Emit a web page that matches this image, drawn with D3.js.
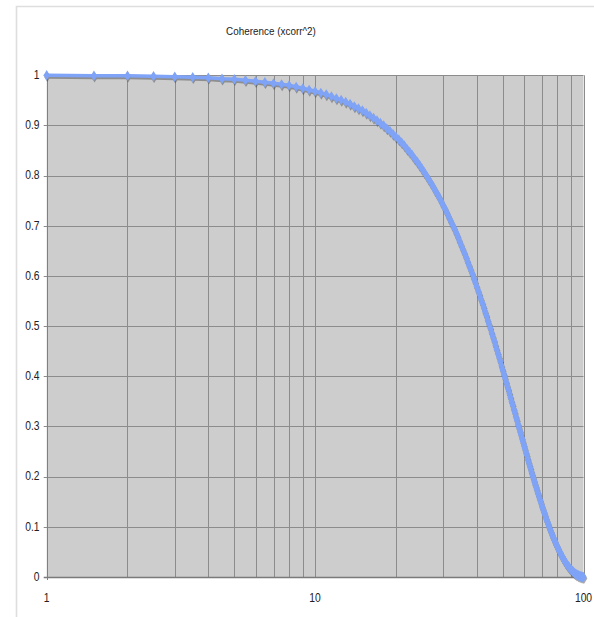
<!DOCTYPE html>
<html>
<head>
<meta charset="utf-8">
<script src="https://cdn.jsdelivr.net/npm/d3@7"></script>
<style>
  body { margin: 0; background: #fff; }
  text { font-family: "Liberation Sans", Arial, sans-serif; fill: #222; }
</style>
</head>
<body>
<svg id="chart"></svg>
<script>
// lag values (x) and coherence values (y)
var lags = [
  1, 1.5, 2, 2.5, 3, 3.5, 4, 4.5, 5, 5.5, 6, 6.5, 7, 7.5, 8, 8.5, 9, 9.5, 10, 10.5,
  11, 11.5, 12, 12.5, 13, 13.5, 14, 14.5, 15, 15.5, 16, 16.5, 17, 17.5, 18, 18.5, 19, 19.5, 20, 20.5,
  21, 21.5, 22, 22.5, 23, 23.5, 24, 24.5, 25, 25.5, 26, 26.5, 27, 27.5, 28, 28.5, 29, 29.5, 30, 30.5,
  31, 31.5, 32, 32.5, 33, 33.5, 34, 34.5, 35, 35.5, 36, 36.5, 37, 37.5, 38, 38.5, 39, 39.5, 40, 40.5,
  41, 41.5, 42, 42.5, 43, 43.5, 44, 44.5, 45, 45.5, 46, 46.5, 47, 47.5, 48, 48.5, 49, 49.5, 50, 50.5,
  51, 51.5, 52, 52.5, 53, 53.5, 54, 54.5, 55, 55.5, 56, 56.5, 57, 57.5, 58, 58.5, 59, 59.5, 60, 60.5,
  61, 61.5, 62, 62.5, 63, 63.5, 64, 64.5, 65, 65.5, 66, 66.5, 67, 67.5, 68, 68.5, 69, 69.5, 70, 70.5,
  71, 71.5, 72, 72.5, 73, 73.5, 74, 74.5, 75, 75.5, 76, 76.5, 77, 77.5, 78, 78.5, 79, 79.5, 80, 80.5,
  81, 81.5, 82, 82.5, 83, 83.5, 84, 84.5, 85, 85.5, 86, 86.5, 87, 87.5, 88, 88.5, 89, 89.5, 90, 90.5,
  91, 91.5, 92, 92.5, 93, 93.5, 94, 94.5, 95, 95.5, 96, 96.5, 97, 97.5, 98, 98.5, 99, 99.5, 100
]
var coherence = [
  1.000, 0.999, 0.999, 0.998, 0.997, 0.996, 0.995, 0.993, 0.992, 0.990, 0.988, 0.986, 0.984, 0.982, 0.980, 0.977, 0.974, 0.971, 0.968, 0.965,
  0.962, 0.958, 0.954, 0.951, 0.947, 0.943, 0.938, 0.934, 0.930, 0.925, 0.920, 0.915, 0.910, 0.905, 0.900, 0.894, 0.889, 0.883, 0.877, 0.872,
  0.866, 0.860, 0.853, 0.847, 0.841, 0.834, 0.828, 0.821, 0.814, 0.807, 0.800, 0.793, 0.786, 0.779, 0.771, 0.764, 0.757, 0.749, 0.741, 0.734,
  0.726, 0.718, 0.710, 0.702, 0.695, 0.687, 0.679, 0.670, 0.662, 0.654, 0.646, 0.638, 0.629, 0.621, 0.613, 0.605, 0.596, 0.588, 0.579, 0.571,
  0.563, 0.554, 0.546, 0.538, 0.529, 0.521, 0.512, 0.504, 0.496, 0.487, 0.479, 0.471, 0.462, 0.454, 0.446, 0.438, 0.430, 0.421, 0.413, 0.405,
  0.397, 0.389, 0.381, 0.374, 0.366, 0.358, 0.350, 0.343, 0.335, 0.328, 0.320, 0.313, 0.305, 0.298, 0.291, 0.284, 0.277, 0.270, 0.263, 0.256,
  0.249, 0.243, 0.236, 0.229, 0.223, 0.217, 0.210, 0.204, 0.198, 0.192, 0.186, 0.181, 0.175, 0.169, 0.164, 0.158, 0.153, 0.148, 0.142, 0.137,
  0.132, 0.128, 0.123, 0.118, 0.113, 0.109, 0.105, 0.100, 0.096, 0.092, 0.088, 0.084, 0.080, 0.077, 0.073, 0.070, 0.066, 0.063, 0.060, 0.057,
  0.053, 0.051, 0.048, 0.045, 0.042, 0.040, 0.037, 0.035, 0.033, 0.030, 0.028, 0.026, 0.024, 0.022, 0.021, 0.019, 0.017, 0.016, 0.014, 0.013,
  0.012, 0.011, 0.009, 0.008, 0.007, 0.006, 0.005, 0.005, 0.004, 0.003, 0.003, 0.002, 0.002, 0.001, 0.001, 0.001, 0.000, 0.000, 0.000
]
var xTickLabels = [1, 10, 100]
var yTicks = [0, 0.1, 0.2, 0.3, 0.4, 0.5, 0.6, 0.7, 0.8, 0.9, 1]
var title = "Coherence (xcorr^2)"

var width = 594, height = 617
var blue = "#7fa3f6"

var svg = d3.select("#chart")
    .attr("width", width)
    .attr("height", height)

var x = d3.scaleLog().domain([1, 100]).range([46.7, 583.5])
var y = d3.scaleLinear().domain([0, 1]).range([577, 75.3])

var points = lags.map((l, i) => ({ lag: l, value: coherence[i] }))

// outer chart frame (only top/left edges are visible)
svg.append("path")
    .attr("d", "M16.5," + height + "V6.5H" + width)
    .style("fill", "none")
    .style("stroke", "#dedede")
    .style("stroke-width", 1.6)

// plot area
svg.append("rect")
    .attr("x", x.range()[0])
    .attr("y", y(1))
    .attr("width", x.range()[1] - x.range()[0])
    .attr("height", y(0) - y(1))
    .style("fill", "#cdcdcd")

// vertical grid lines on every log tick
svg.append("g").selectAll("line")
    .data(x.ticks())
    .enter().append("line")
    .attr("x1", d => Math.round(x(d)) + 0.5)
    .attr("x2", d => Math.round(x(d)) + 0.5)
    .attr("y1", y(1))
    .attr("y2", y(0))
    .style("stroke", "#8c8c8c")
    .style("stroke-width", 1)

// horizontal grid lines
svg.append("g").selectAll("line")
    .data(yTicks)
    .enter().append("line")
    .attr("x1", x.range()[0] - 3)
    .attr("x2", x.range()[1])
    .attr("y1", d => Math.round(y(d)) + 0.5)
    .attr("y2", d => Math.round(y(d)) + 0.5)
    .style("stroke", d => d == 0 ? "#7a7a7a" : "#8c8c8c")
    .style("stroke-width", d => d == 0 ? 1.5 : 1)

// axes lines
svg.append("line")
    .attr("x1", Math.round(x(1)) + 0.5).attr("x2", Math.round(x(1)) + 0.5)
    .attr("y1", y(1)).attr("y2", y(0) + 3)
    .style("stroke", "#808080")

var line = d3.line()
    .x(d => x(d.lag))
    .y(d => y(d.value))

var diamond = "M0,-5.2L3.2,0L0,5.2L-3.2,0Z"

// shadow
var shadow = svg.append("g")
    .attr("transform", "translate(0.6,1.6)")
    .style("opacity", 0.45)
shadow.append("path")
    .datum(points)
    .attr("d", line)
    .style("fill", "none")
    .style("stroke", "#444")
    .style("stroke-width", 3.6)
shadow.selectAll("path.m")
    .data(points)
    .enter().append("path")
    .attr("class", "m")
    .attr("d", diamond)
    .attr("transform", d => "translate(" + x(d.lag) + "," + y(d.value) + ")")
    .style("fill", "#444")

// series
svg.append("path")
    .datum(points)
    .attr("d", line)
    .style("fill", "none")
    .style("stroke", blue)
    .style("stroke-width", 3.6)
    .style("stroke-linejoin", "round")

svg.append("g").selectAll("path")
    .data(points)
    .enter().append("path")
    .attr("d", diamond)
    .attr("transform", d => "translate(" + x(d.lag) + "," + y(d.value) + ")")
    .style("fill", blue)

// y tick labels
svg.append("g").selectAll("text")
    .data(yTicks)
    .enter().append("text")
    .attr("transform", d => "translate(39.5," + (y(d) + 3.8) + ") scale(0.86,1)")
    .attr("text-anchor", "end")
    .style("font-size", "12px")
    .text(d => d)

// x tick labels
svg.append("g").selectAll("text")
    .data(xTickLabels)
    .enter().append("text")
    .attr("transform", d => "translate(" + x(d) + ",602) scale(0.86,1)")
    .attr("text-anchor", "middle")
    .style("font-size", "12px")
    .text(d => d)

// title
svg.append("text")
    .attr("transform", "translate(271,35) scale(0.86,1)")
    .attr("text-anchor", "middle")
    .style("font-size", "11.5px")
    .text(title)
</script>
</body>
</html>
